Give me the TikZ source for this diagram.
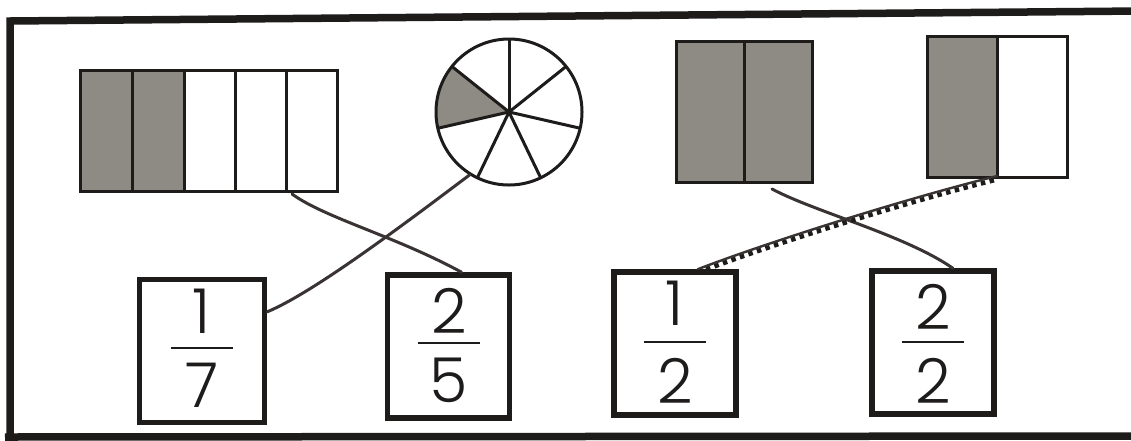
\documentclass[tikz,border=0pt]{standalone}
\usepackage{fontspec}
\usetikzlibrary{calc}
\newfontfamily\frfont{Poppins}[UprightFont={* Light}]
\definecolor{inkc}{HTML}{1E1B1B}
\definecolor{linkc}{HTML}{3A3333}
\definecolor{grayc}{HTML}{8E8B85}
\begin{document}
\begin{tikzpicture}[x=1pt,y=-1pt]
\useasboundingbox (0,0) rectangle (1131,440);
\fill[white] (0,0) rectangle (1131,440);
\tikzset{
  ink/.style={draw=inkc, line width=3pt},
  fracbox/.style={draw=inkc, line width=5.5pt, fill=white, minimum width=122pt, minimum height=143pt, inner sep=0pt},
  digit/.style={inner sep=0pt, font=\frfont\fontsize{62}{62}\selectfont, text=inkc},
  fbar/.style={draw=inkc, line width=2.6pt},
  link/.style={draw=linkc, line width=3pt, line cap=round},
  frame/.style={draw=inkc, line width=7.5pt}
}
% outer frame
\draw[frame] (10,450) -- (10,21) -- (1140,11);
\draw[frame] (5,437) -- (1140,436);

% five-part bar
\fill[grayc] (80,70) rectangle (184,191);
\draw[ink] (80,70) rectangle (337,191);
\foreach \xx in {132,184,235,286} \draw[ink] (\xx,70) -- (\xx,191);
\coordinate (r1a) at (292,194);

% circle in sevenths
\coordinate (cc) at (509,112);
\fill[grayc] (cc) -- ++(167.14:73) arc[start angle=167.14, end angle=218.57, radius=73] -- cycle;
\foreach \aa in {-90,-38.57,12.86,64.29,115.71,167.14,218.57} \draw[ink] (cc) -- ++(\aa:73);
\draw[ink] (cc) circle[radius=73];
\coordinate (cira) at ($(cc)+(122:74)$);

% two gray halves
\fill[grayc] (676,41) rectangle (812,182);
\draw[ink] (676,41) rectangle (812,182);
\draw[ink] (744,41) -- (744,182);
\coordinate (r3a) at (772,189);

% one gray half
\fill[grayc] (927,36) rectangle (997,177);
\draw[ink] (927,36) rectangle (1067,177);
\draw[ink] (997,36) -- (997,177);
\coordinate (r4a) at (997,176);

% fraction boxes
\node[fracbox, minimum width=125pt] (b17) at (202,351) {};
\node[fracbox] (b25) at (448.5,346.5) {};
\node[fracbox] (b12) at (675,343.5) {};
\node[fracbox] (b22) at (933,342.5) {};

\node[digit] (n17) at (202,311) {1};
\node[digit] (d17) at (202,385) {7};
\draw[fbar] (171,348) -- (233,348);
\node[digit] (n25) at (449,311) {2};
\node[digit] (d25) at (449,380) {5};
\draw[fbar] (418,343) -- (480,343);
\node[digit] (n12) at (675,303) {1};
\node[digit] (d12) at (675,381) {2};
\draw[fbar] (644,342) -- (706,342);
\node[digit] (n22) at (933,307) {2};
\node[digit] (d22) at (933,381) {2};
\draw[fbar] (902,342) -- (964,342);

% connectors
\draw[link] (r1a) .. controls (325,218) and (395,236) .. (b25.80);
\draw[link] (b17.31) .. controls (310,294) and (390,235) .. (cira);
\draw[link] (r3a) .. controls (815,212) and (905,235) .. (b22.75);
\draw[link, line width=2.4pt] (b12.73) .. controls (760,245) and (900,200) .. (r4a);
\draw[draw=inkc, line width=4.5pt, dash pattern=on 4.5pt off 4.5pt, transform canvas={yshift=-3.5pt}] (b12.73) .. controls (760,245) and (900,200) .. (r4a);
\end{tikzpicture}
\end{document}
